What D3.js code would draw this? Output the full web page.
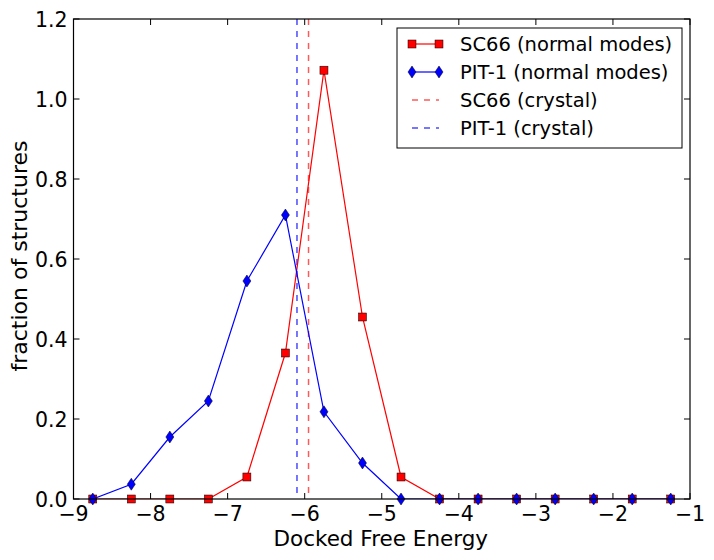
<!DOCTYPE html>
<html>
<head>
<meta charset="utf-8">
<script src="https://cdn.jsdelivr.net/npm/d3@7"></script>
<style>
  html, body { margin: 0; padding: 0; background: #fff; }
  svg { display: block; font-family: "DejaVu Sans", sans-serif; }
</style>
</head>
<body>
<svg id="chart" width="714" height="560"></svg>
<script>
const energies = [-8.75, -8.25, -7.75, -7.25, -6.75, -6.25, -5.75, -5.25, -4.75, -4.25, -3.75, -3.25, -2.75, -2.25, -1.75, -1.25];
const sc66Values = [0, 0, 0, 0, 0.055, 0.365, 1.072, 0.455, 0.055, 0, 0, 0, 0, 0, 0, 0];
const pit1Values = [0, 0.037, 0.155, 0.245, 0.545, 0.71, 0.218, 0.09, 0, 0, 0, 0, 0, 0, 0, 0];
const sc66Crystal = -5.95;
const pit1Crystal = -6.10;
const xTicks = [-9, -8, -7, -6, -5, -4, -3, -2, -1];
const yTicks = [0.0, 0.2, 0.4, 0.6, 0.8, 1.0, 1.2];
const legendLabels = ["SC66 (normal modes)", "PIT-1 (normal modes)", "SC66 (crystal)", "PIT-1 (crystal)"];

const svg = d3.select("#chart");
const m = { left: 73.5, right: 690, top: 19, bottom: 499 };
const x = d3.scaleLinear().domain([-9, -1]).range([m.left, m.right]);
const y = d3.scaleLinear().domain([0, 1.2]).range([m.bottom, m.top]);

const RED = "#ff0000", BLUE = "#0000ff";
const DRED = "#ff5a5a", DBLUE = "#4a4aff";

const plot = svg.append("g");
svg.append("clipPath").attr("id", "clip").append("rect")
  .attr("x", m.left).attr("y", m.top).attr("width", m.right - m.left).attr("height", m.bottom - m.top);

const inner = plot.append("g").attr("clip-path", "url(#clip)");

inner.append("line").attr("x1", x(pit1Crystal)).attr("x2", x(pit1Crystal))
  .attr("y1", m.top).attr("y2", m.bottom).attr("stroke", DBLUE).attr("stroke-width", 1.5).attr("stroke-dasharray", "6,6");
inner.append("line").attr("x1", x(sc66Crystal)).attr("x2", x(sc66Crystal))
  .attr("y1", m.top).attr("y2", m.bottom).attr("stroke", DRED).attr("stroke-width", 1.5).attr("stroke-dasharray", "6,6");

const line = d3.line().x(d => x(d[0])).y(d => y(d[1]));
const sc = energies.map((e, i) => [e, sc66Values[i]]);
const pt = energies.map((e, i) => [e, pit1Values[i]]);

function squareMarker(g, px, py, s) {
  g.append("rect").attr("x", px - s / 2).attr("y", py - s / 2).attr("width", s).attr("height", s)
    .attr("fill", RED).attr("stroke", "#000").attr("stroke-width", 0.5);
}
function diamondMarker(g, px, py, w, h) {
  g.append("path").attr("d", `M${px},${py - h / 2}L${px + w / 2},${py}L${px},${py + h / 2}L${px - w / 2},${py}Z`)
    .attr("fill", BLUE).attr("stroke", "#000").attr("stroke-width", 0.5);
}

inner.append("path").datum(sc).attr("d", line).attr("fill", "none").attr("stroke", RED).attr("stroke-width", 1.2);
sc.forEach(d => squareMarker(plot, x(d[0]), y(d[1]), 8));
inner.append("path").datum(pt).attr("d", line).attr("fill", "none").attr("stroke", BLUE).attr("stroke-width", 1.2);
pt.forEach(d => diamondMarker(plot, x(d[0]), y(d[1]), 8, 12));

svg.append("rect").attr("x", m.left).attr("y", m.top).attr("width", m.right - m.left).attr("height", m.bottom - m.top)
  .attr("fill", "none").attr("stroke", "#000").attr("stroke-width", 1.2);

const fmtX = d3.format("d");
const fmtY = d3.format(".1f");
const tl = 6;
const ax = svg.append("g");
xTicks.forEach(t => {
  const px = x(t);
  ax.append("line").attr("x1", px).attr("x2", px).attr("y1", m.bottom).attr("y2", m.bottom - tl).attr("stroke", "#000");
  ax.append("line").attr("x1", px).attr("x2", px).attr("y1", m.top).attr("y2", m.top + tl).attr("stroke", "#000");
  ax.append("text").attr("x", px).attr("y", m.bottom + 22).attr("text-anchor", "middle")
    .attr("font-size", 20.5).text(fmtX(t));
});
yTicks.forEach(t => {
  const py = y(t);
  ax.append("line").attr("x1", m.left).attr("x2", m.left + tl).attr("y1", py).attr("y2", py).attr("stroke", "#000");
  ax.append("line").attr("x1", m.right).attr("x2", m.right - tl).attr("y1", py).attr("y2", py).attr("stroke", "#000");
  ax.append("text").attr("x", m.left - 6).attr("y", py + 7.5).attr("text-anchor", "end")
    .attr("font-size", 20.5).text(fmtY(t));
});

svg.append("text").attr("x", (m.left + m.right) / 2 - 1).attr("y", 546).attr("text-anchor", "middle")
  .attr("font-size", 21.5).text("Docked Free Energy");
svg.append("text").attr("transform", `translate(27,256) rotate(-90)`)
  .attr("text-anchor", "middle").attr("font-size", 22).text("fraction of structures");

const lg = svg.append("g");
lg.append("rect").attr("x", 397).attr("y", 28).attr("width", 285).attr("height", 120)
  .attr("fill", "#fff").attr("stroke", "#000").attr("stroke-width", 1);
const rowsY = [44, 72, 100, 128];
const lx1 = 412, lx2 = 439;
lg.append("line").attr("x1", lx1).attr("x2", lx2).attr("y1", rowsY[0]).attr("y2", rowsY[0]).attr("stroke", RED).attr("stroke-width", 1.2);
squareMarker(lg, lx1, rowsY[0], 8); squareMarker(lg, lx2, rowsY[0], 8);
lg.append("line").attr("x1", lx1).attr("x2", lx2).attr("y1", rowsY[1]).attr("y2", rowsY[1]).attr("stroke", BLUE).attr("stroke-width", 1.2);
diamondMarker(lg, lx1, rowsY[1], 8, 12); diamondMarker(lg, lx2, rowsY[1], 8, 12);
lg.append("line").attr("x1", lx1).attr("x2", lx2).attr("y1", rowsY[2]).attr("y2", rowsY[2]).attr("stroke", DRED).attr("stroke-width", 1.5).attr("stroke-dasharray", "6,6");
lg.append("line").attr("x1", lx1).attr("x2", lx2).attr("y1", rowsY[3]).attr("y2", rowsY[3]).attr("stroke", DBLUE).attr("stroke-width", 1.5).attr("stroke-dasharray", "6,6");
legendLabels.forEach((l, i) => {
  lg.append("text").attr("x", 460).attr("y", rowsY[i] + 7).attr("font-size", 19.5).text(l);
});
</script>
</body>
</html>
